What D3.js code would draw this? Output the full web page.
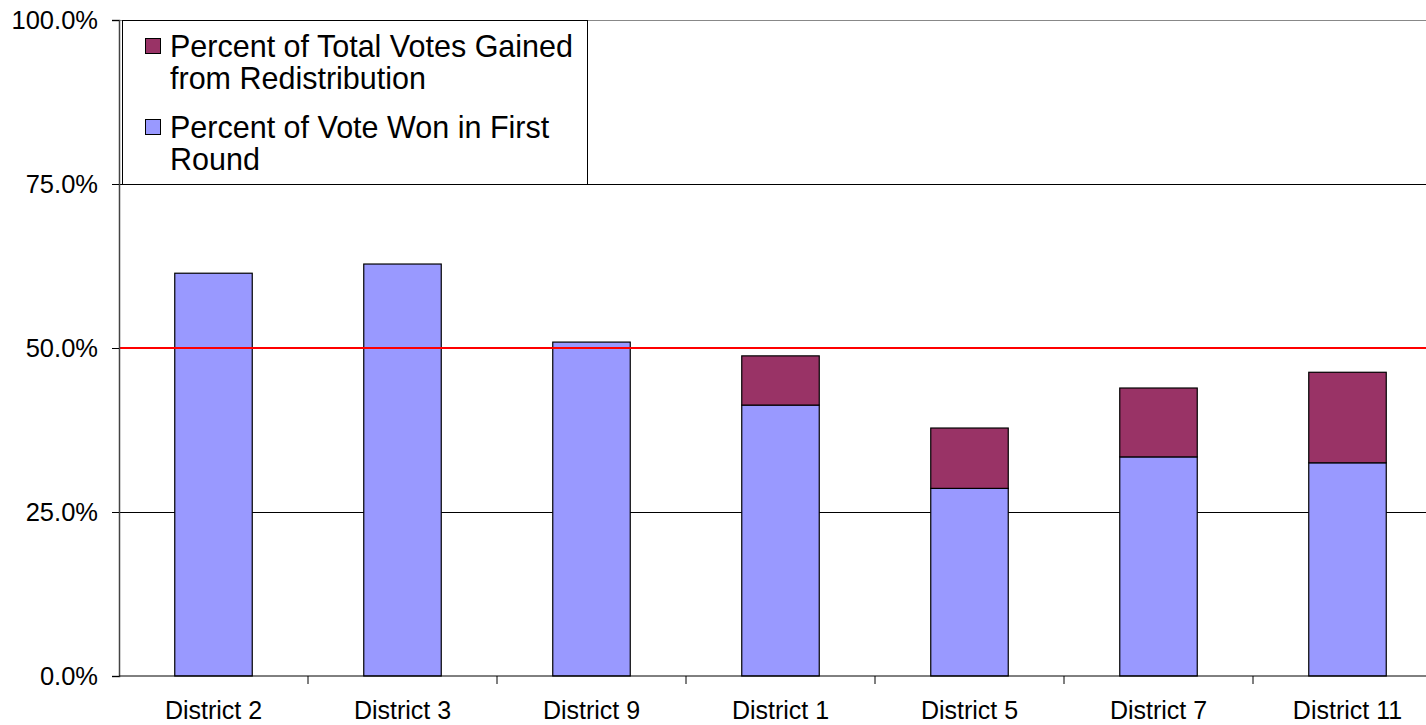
<!DOCTYPE html>
<html>
<head>
<meta charset="utf-8">
<script src="https://cdn.jsdelivr.net/npm/d3@7"></script>
<style>
	body { margin: 0; background: #fff; overflow: hidden; }
	text { font-family: 'Liberation Sans', Arial, sans-serif; fill: #000; }
</style>
</head>
<body>
<div id="chart"></div>
<script>
// chart data
const districts = ['District 2', 'District 3', 'District 9', 'District 1', 'District 5', 'District 7', 'District 11'];
const firstRound = [61.4, 62.8, 50.9, 41.3, 28.6, 33.4, 32.5];
const redistribution = [0, 0, 0, 7.5, 9.2, 10.5, 13.8];
const yTicks = [0, 25, 50, 75, 100];
const majorityLine = 50;
const seriesNames = ['Percent of Total Votes Gained from Redistribution', 'Percent of Vote Won in First Round'];

const width = 1426;
const height = 725;
const margin = { left: 119, top: 20, bottom: 49 };
const band = 189;

const svg = d3.select('#chart')
	.append('svg')
	.attr('width', width)
	.attr('height', height);

const x = d3.scaleBand()
	.domain(districts)
	.range([margin.left, margin.left + band * districts.length])
	.paddingInner(0.59)
	.paddingOuter(0.295);

const y = d3.scaleLinear()
	.domain([0, 100])
	.range([height - margin.bottom, margin.top]);

// gridlines
svg.append('g')
	.selectAll('line')
	.data(yTicks.filter(d => d > 0))
	.enter()
	.append('line')
	.attr('x1', margin.left)
	.attr('x2', width)
	.attr('y1', d => Math.round(y(d)) + 0.5)
	.attr('y2', d => Math.round(y(d)) + 0.5)
	.attr('stroke', d => (d === 100 ? '#888' : '#000'))
	.attr('stroke-width', 1);

// stacked bars
const rows = districts.map((d, i) => ({ district: d, first: firstRound[i], gain: redistribution[i] }));
const bars = svg.append('g').selectAll('g').data(rows).enter().append('g');

bars.append('rect')
	.attr('x', d => x(d.district))
	.attr('width', x.bandwidth())
	.attr('y', d => y(d.first))
	.attr('height', d => y(0) - y(d.first))
	.attr('fill', '#9999ff')
	.attr('stroke', '#000')
	.attr('stroke-width', 1.2);

bars.filter(d => d.gain > 0)
	.append('rect')
	.attr('x', d => x(d.district))
	.attr('width', x.bandwidth())
	.attr('y', d => y(d.first + d.gain))
	.attr('height', d => y(d.first) - y(d.first + d.gain))
	.attr('fill', '#993366')
	.attr('stroke', '#000')
	.attr('stroke-width', 1.2);

// 50% line
svg.append('line')
	.attr('x1', margin.left)
	.attr('x2', width)
	.attr('y1', y(majorityLine))
	.attr('y2', y(majorityLine))
	.attr('stroke', '#ff0000')
	.attr('stroke-width', 2);

// y axis
const yAxis = svg.append('g')
	.attr('transform', `translate(${margin.left},0)`)
	.call(d3.axisLeft(y).tickValues(yTicks).tickSize(7).tickPadding(14).tickFormat(d => d.toFixed(1) + '%'));
yAxis.select('.domain').attr('stroke', '#444').attr('stroke-width', 1.5);
yAxis.selectAll('.tick line').attr('stroke', '#000');
yAxis.selectAll('text').style('font-size', '25.5px').attr('fill', '#000');

// x axis with ticks on band boundaries
const xAxisG = svg.append('g').attr('transform', `translate(0,${y(0)})`);
xAxisG.append('line')
	.attr('x1', margin.left)
	.attr('x2', width)
	.attr('stroke', '#000');
xAxisG.selectAll('.btick')
	.data(districts.slice(1))
	.enter()
	.append('line')
	.attr('x1', d => x(d) - x.step() * x.paddingInner() / 2)
	.attr('x2', d => x(d) - x.step() * x.paddingInner() / 2)
	.attr('y1', 0)
	.attr('y2', 8)
	.attr('stroke', '#000');
xAxisG.selectAll('.xlabel')
	.data(districts)
	.enter()
	.append('text')
	.attr('x', d => x(d) + x.bandwidth() / 2)
	.attr('y', 43)
	.attr('text-anchor', 'middle')
	.style('font-size', '25px')
	.text(d => d);

// legend
const legend = svg.append('g');
legend.append('rect')
	.attr('x', 122.5)
	.attr('y', 20.5)
	.attr('width', 465)
	.attr('height', 164)
	.attr('fill', '#fff')
	.attr('stroke', '#000');

const legendLines = [
	['Percent of Total Votes Gained', 'from Redistribution'],
	['Percent of Vote Won in First', 'Round']
];
const legendColors = ['#993366', '#9999ff'];
legendLines.forEach((lines, i) => {
	const top = 47 + i * 81;
	legend.append('rect')
		.attr('x', 145.5)
		.attr('y', top - 8.5)
		.attr('width', 15)
		.attr('height', 15)
		.attr('fill', legendColors[i])
		.attr('stroke', '#000');
	const t = legend.append('text')
		.attr('x', 170)
		.attr('y', top + 10)
		.style('font-size', '30.5px')
		.attr('aria-label', seriesNames[i]);
	lines.forEach((line, j) => {
		t.append('tspan')
			.attr('x', 170)
			.attr('dy', j === 0 ? 0 : 32)
			.text(line);
	});
});
</script>
</body>
</html>
